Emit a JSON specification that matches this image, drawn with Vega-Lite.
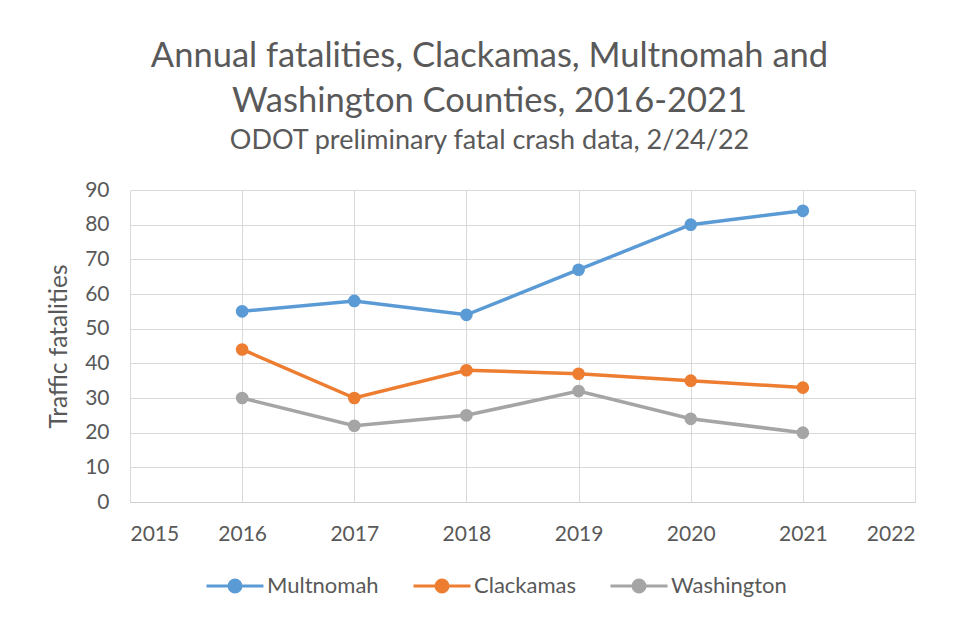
{
  "$schema": "https://vega.github.io/schema/vega-lite/v6.json",
  "width": 785,
  "height": 312,
  "autosize": "none",
  "padding": {"left": 130, "top": 190, "right": 44, "bottom": 121},
  "background": "white",
  "title": {
    "text": ["Annual fatalities, Clackamas, Multnomah and", "Washington Counties, 2016-2021"],
    "subtitle": "ODOT preliminary fatal crash data, 2/24/22",
    "anchor": "middle",
    "frame": "group",
    "dx": -33,
    "offset": 24,
    "font": "Lato",
    "fontSize": 34.5,
    "fontWeight": "normal",
    "color": "#595959",
    "lineHeight": 45,
    "subtitleFont": "Lato",
    "subtitleFontSize": 27,
    "subtitleColor": "#595959",
    "subtitlePadding": 9
  },
  "data": {
    "values": [
      {"year": 2016, "county": "Multnomah", "fatalities": 55},
      {"year": 2017, "county": "Multnomah", "fatalities": 58},
      {"year": 2018, "county": "Multnomah", "fatalities": 54},
      {"year": 2019, "county": "Multnomah", "fatalities": 67},
      {"year": 2020, "county": "Multnomah", "fatalities": 80},
      {"year": 2021, "county": "Multnomah", "fatalities": 84},
      {"year": 2016, "county": "Clackamas", "fatalities": 44},
      {"year": 2017, "county": "Clackamas", "fatalities": 30},
      {"year": 2018, "county": "Clackamas", "fatalities": 38},
      {"year": 2019, "county": "Clackamas", "fatalities": 37},
      {"year": 2020, "county": "Clackamas", "fatalities": 35},
      {"year": 2021, "county": "Clackamas", "fatalities": 33},
      {"year": 2016, "county": "Washington", "fatalities": 30},
      {"year": 2017, "county": "Washington", "fatalities": 22},
      {"year": 2018, "county": "Washington", "fatalities": 25},
      {"year": 2019, "county": "Washington", "fatalities": 32},
      {"year": 2020, "county": "Washington", "fatalities": 24},
      {"year": 2021, "county": "Washington", "fatalities": 20}
    ]
  },
  "encoding": {
    "x": {
      "field": "year",
      "type": "quantitative",
      "scale": {"domain": [2015, 2022], "nice": false, "zero": false},
      "axis": {
        "title": null,
        "format": "d",
        "values": [2015, 2016, 2017, 2018, 2019, 2020, 2021, 2022],
        "labelPadding": 21,
        "domainColor": "#D0D0D0"
      }
    },
    "y": {
      "field": "fatalities",
      "type": "quantitative",
      "scale": {"domain": [0, 90], "nice": false},
      "axis": {
        "title": "Traffic fatalities",
        "values": [0, 10, 20, 30, 40, 50, 60, 70, 80, 90],
        "labelPadding": 21,
        "domain": false,
        "titlePadding": 13,
        "titleFontSize": 24.5
      }
    },
    "color": {
      "field": "county",
      "type": "nominal",
      "scale": {
        "domain": ["Multnomah", "Clackamas", "Washington"],
        "range": ["#5B9BD5", "#ED7D31", "#A5A5A5"]
      },
      "legend": {
        "title": null,
        "orient": "none",
        "direction": "horizontal",
        "legendX": 75,
        "legendY": 366,
        "symbolType": "M-1,0H1M-0.21,0A0.21,0.21,0,1,0,0.21,0A0.21,0.21,0,1,0,-0.21,0Z",
        "symbolSize": 3249,
        "symbolStrokeWidth": 3,
        "labelFontSize": 22,
        "labelFont": "Lato",
        "labelColor": "#595959",
        "labelOffset": 2,
        "columnPadding": 28
      }
    }
  },
  "layer": [
    {"mark": {"type": "line", "strokeWidth": 3.5}},
    {"mark": {"type": "point", "filled": true, "size": 160, "opacity": 1}}
  ],
  "config": {
    "axis": {
      "labelFont": "Lato",
      "labelFontSize": 21,
      "labelColor": "#595959",
      "titleFont": "Lato",
      "titleColor": "#595959",
      "titleFontWeight": "normal",
      "gridColor": "#D9D9D9",
      "gridWidth": 1,
      "ticks": false
    },
    "view": {"stroke": null}
  }
}
